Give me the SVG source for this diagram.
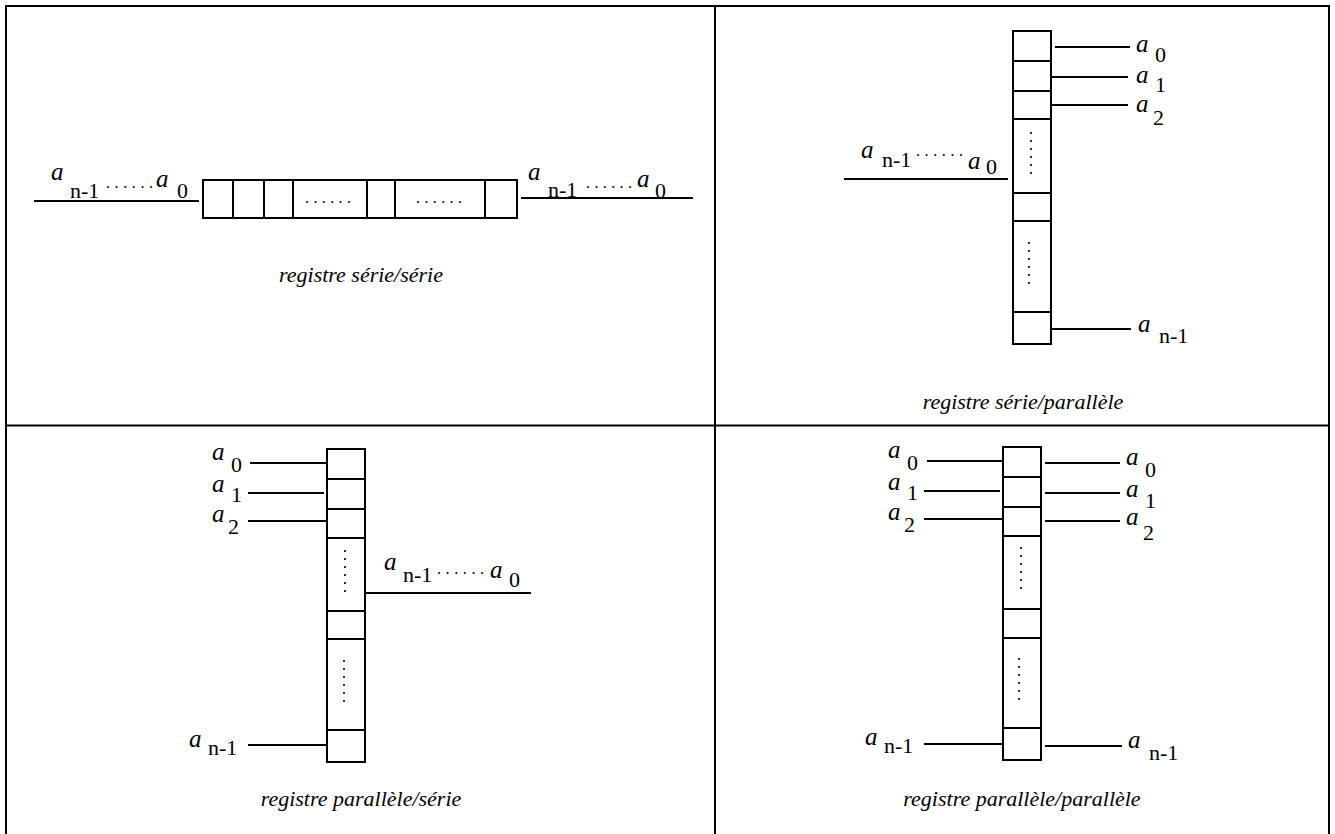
<svg xmlns="http://www.w3.org/2000/svg" width="1335" height="834" viewBox="0 0 1335 834">
<style>
.grid{fill:none;stroke:#000;stroke-width:2}
.box{fill:#fff;stroke:#000;stroke-width:2}
.w{stroke:#000;stroke-width:2;fill:none}
text{font-family:'Liberation Serif','Times New Roman','DejaVu Serif',serif;fill:#000}
.a{font-style:italic;font-size:25px}
.s{font-size:22px}
.d{font-size:16px}
.cap{font-style:italic;font-size:22px;text-anchor:middle}
.dot{fill:#000}
</style>
<rect width="1335" height="834" fill="#fff"/>
<g id="table">
<rect class="grid" x="6" y="6" width="1323" height="840"/>
<line class="grid" x1="715" y1="6" x2="715" y2="846"/>
<line class="grid" x1="6" y1="425.5" x2="1329" y2="425.5"/>
</g>

<g id="connectors">
<line class="w" x1="34" y1="201" x2="199" y2="201"/>
<line class="w" x1="521" y1="198" x2="693" y2="198"/>
<line class="w" x1="844" y1="179" x2="1008" y2="179"/>
<line class="w" x1="1055" y1="47" x2="1130" y2="47"/>
<line class="w" x1="1052" y1="77" x2="1128" y2="77"/>
<line class="w" x1="1052" y1="105" x2="1128" y2="105"/>
<line class="w" x1="1052" y1="329" x2="1131" y2="329"/>
<line class="w" x1="250" y1="463" x2="327" y2="463"/>
<line class="w" x1="248" y1="493" x2="324" y2="493"/>
<line class="w" x1="248" y1="521" x2="327" y2="521"/>
<line class="w" x1="248" y1="745" x2="327" y2="745"/>
<line class="w" x1="365" y1="593" x2="531" y2="593"/>
<line class="w" x1="927" y1="461" x2="1003" y2="461"/>
<line class="w" x1="924" y1="491" x2="1000" y2="491"/>
<line class="w" x1="924" y1="519" x2="1003" y2="519"/>
<line class="w" x1="924" y1="744" x2="1003" y2="744"/>
<line class="w" x1="1045" y1="463" x2="1120" y2="463"/>
<line class="w" x1="1045" y1="493" x2="1120" y2="493"/>
<line class="w" x1="1045" y1="521" x2="1120" y2="521"/>
<line class="w" x1="1045" y1="746" x2="1122" y2="746"/>
</g>

<g id="reg-serie-serie">
<rect class="box" x="203" y="180" width="314" height="38"/>
<line class="w" x1="233" y1="180" x2="233" y2="218"/>
<line class="w" x1="264" y1="180" x2="264" y2="218"/>
<line class="w" x1="293" y1="180" x2="293" y2="218"/>
<line class="w" x1="367" y1="180" x2="367" y2="218"/>
<line class="w" x1="395" y1="180" x2="395" y2="218"/>
<line class="w" x1="485" y1="180" x2="485" y2="218"/>
<text class="d" x="305" y="203" textLength="46" lengthAdjust="spacing">......</text>
<text class="d" x="416" y="203" textLength="46" lengthAdjust="spacing">......</text>
<text class="a" x="51" y="180">a</text><text class="s" x="70" y="198">n-1</text>
<text class="d" x="106" y="188" textLength="47" lengthAdjust="spacing">......</text>
<text class="a" x="156" y="187">a</text><text class="s" x="177" y="198">0</text>
<text class="a" x="528" y="180">a</text><text class="s" x="548" y="197">n-1</text>
<text class="d" x="586" y="188" textLength="46" lengthAdjust="spacing">......</text>
<text class="a" x="637" y="187">a</text><text class="s" x="655" y="198">0</text>
<text class="cap" x="361" y="282">registre série/série</text>
</g>

<g id="reg-serie-parallele">
<rect class="box" x="1013" y="31" width="38" height="313"/>
<line class="w" x1="1013" y1="61" x2="1051" y2="61"/>
<line class="w" x1="1013" y1="91" x2="1051" y2="91"/>
<line class="w" x1="1013" y1="119" x2="1051" y2="119"/>
<line class="w" x1="1013" y1="193" x2="1051" y2="193"/>
<line class="w" x1="1013" y1="221" x2="1051" y2="221"/>
<line class="w" x1="1013" y1="312" x2="1051" y2="312"/>
<g class="dot"><circle cx="1031" cy="133" r="1.1"/><circle cx="1031" cy="141" r="1.1"/><circle cx="1031" cy="149" r="1.1"/><circle cx="1031" cy="157" r="1.1"/><circle cx="1031" cy="165" r="1.1"/><circle cx="1031" cy="173" r="1.1"/>
<circle cx="1029" cy="243" r="1.1"/><circle cx="1029" cy="251" r="1.1"/><circle cx="1029" cy="259" r="1.1"/><circle cx="1029" cy="267" r="1.1"/><circle cx="1029" cy="275" r="1.1"/><circle cx="1029" cy="283" r="1.1"/></g>
<text class="a" x="861" y="158">a</text><text class="s" x="882" y="167">n-1</text>
<text class="d" x="916" y="156" textLength="47" lengthAdjust="spacing">......</text>
<text class="a" x="968" y="169">a</text><text class="s" x="986" y="174">0</text>
<text class="a" x="1136" y="52">a</text><text class="s" x="1155" y="62">0</text>
<text class="a" x="1136" y="83">a</text><text class="s" x="1155" y="92">1</text>
<text class="a" x="1136" y="112">a</text><text class="s" x="1153" y="125">2</text>
<text class="a" x="1138" y="332">a</text><text class="s" x="1159" y="343">n-1</text>
<text class="cap" x="1023" y="409">registre série/parallèle</text>
</g>

<g id="reg-parallele-serie">
<rect class="box" x="327" y="449" width="38" height="313"/>
<line class="w" x1="327" y1="479" x2="365" y2="479"/>
<line class="w" x1="327" y1="509" x2="365" y2="509"/>
<line class="w" x1="327" y1="538" x2="365" y2="538"/>
<line class="w" x1="327" y1="611" x2="365" y2="611"/>
<line class="w" x1="327" y1="639" x2="365" y2="639"/>
<line class="w" x1="327" y1="730" x2="365" y2="730"/>
<g class="dot"><circle cx="345" cy="551" r="1.1"/><circle cx="345" cy="559" r="1.1"/><circle cx="345" cy="567" r="1.1"/><circle cx="345" cy="575" r="1.1"/><circle cx="345" cy="583" r="1.1"/><circle cx="345" cy="591" r="1.1"/>
<circle cx="344" cy="661" r="1.1"/><circle cx="344" cy="669" r="1.1"/><circle cx="344" cy="677" r="1.1"/><circle cx="344" cy="685" r="1.1"/><circle cx="344" cy="693" r="1.1"/><circle cx="344" cy="701" r="1.1"/></g>
<text class="a" x="212" y="460">a</text><text class="s" x="231" y="472">0</text>
<text class="a" x="212" y="492">a</text><text class="s" x="231" y="502">1</text>
<text class="a" x="212" y="522">a</text><text class="s" x="228" y="534">2</text>
<text class="a" x="189" y="747">a</text><text class="s" x="208" y="755">n-1</text>
<text class="a" x="384" y="570">a</text><text class="s" x="403" y="582">n-1</text>
<text class="d" x="437" y="574" textLength="47" lengthAdjust="spacing">......</text>
<text class="a" x="490" y="578">a</text><text class="s" x="509" y="587">0</text>
<text class="cap" x="361" y="806">registre parallèle/série</text>
</g>

<g id="reg-parallele-parallele">
<rect class="box" x="1003" y="447" width="38" height="313"/>
<line class="w" x1="1003" y1="477" x2="1041" y2="477"/>
<line class="w" x1="1003" y1="507" x2="1041" y2="507"/>
<line class="w" x1="1003" y1="536" x2="1041" y2="536"/>
<line class="w" x1="1003" y1="609" x2="1041" y2="609"/>
<line class="w" x1="1003" y1="638" x2="1041" y2="638"/>
<line class="w" x1="1003" y1="728" x2="1041" y2="728"/>
<g class="dot"><circle cx="1021" cy="548" r="1.1"/><circle cx="1021" cy="556" r="1.1"/><circle cx="1021" cy="564" r="1.1"/><circle cx="1021" cy="572" r="1.1"/><circle cx="1021" cy="580" r="1.1"/><circle cx="1021" cy="588" r="1.1"/>
<circle cx="1019" cy="659" r="1.1"/><circle cx="1019" cy="667" r="1.1"/><circle cx="1019" cy="675" r="1.1"/><circle cx="1019" cy="683" r="1.1"/><circle cx="1019" cy="691" r="1.1"/><circle cx="1019" cy="699" r="1.1"/></g>
<text class="a" x="888" y="458">a</text><text class="s" x="907" y="470">0</text>
<text class="a" x="888" y="490">a</text><text class="s" x="907" y="500">1</text>
<text class="a" x="888" y="520">a</text><text class="s" x="904" y="532">2</text>
<text class="a" x="865" y="745">a</text><text class="s" x="884" y="753">n-1</text>
<text class="a" x="1126" y="465">a</text><text class="s" x="1145" y="477">0</text>
<text class="a" x="1126" y="497">a</text><text class="s" x="1145" y="508">1</text>
<text class="a" x="1126" y="525">a</text><text class="s" x="1143" y="540">2</text>
<text class="a" x="1128" y="748">a</text><text class="s" x="1149" y="760">n-1</text>
<text class="cap" x="1022" y="806">registre parallèle/parallèle</text>
</g>
</svg>
